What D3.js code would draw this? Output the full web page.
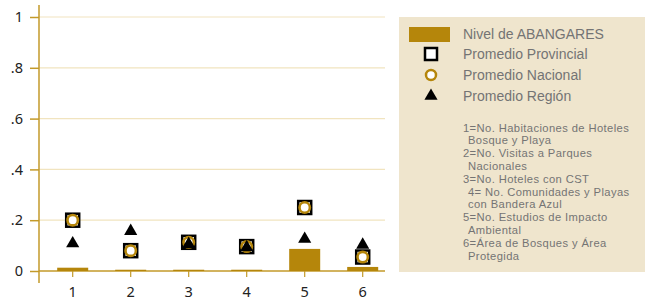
<!DOCTYPE html>
<html>
<head>
<meta charset="utf-8">
<script src="https://cdn.jsdelivr.net/npm/d3@7"></script>
<style>
	body { margin: 0; background: #fff; }
	svg { display: block; }
</style>
</head>
<body>
<svg id="chart" width="645" height="303"></svg>
<script>
const categories = ["1", "2", "3", "4", "5", "6"];
const nivel = [0.013, 0.005, 0.005, 0.005, 0.087, 0.016];
const provincial = [0.2, 0.08, 0.113, 0.096, 0.25, 0.055];
const nacional = [0.2, 0.08, 0.113, 0.096, 0.25, 0.055];
const region = [0.108, 0.157, 0.106, 0.093, 0.126, 0.103];
const yTicks = [0, 0.2, 0.4, 0.6, 0.8, 1];
const legendItems = ["Nivel de ABANGARES", "Promedio Provincial", "Promedio Nacional", "Promedio Región"];
const notes = [
	["1=No. Habitaciones de Hoteles", 0],
	["Bosque y Playa", 1],
	["2=No. Visitas a Parques", 0],
	["Nacionales", 1],
	["3=No. Hoteles con CST", 0],
	["4= No. Comunidades y Playas", 1],
	["con Bandera Azul", 1],
	["5=No. Estudios de Impacto", 0],
	["Ambiental", 1],
	["6=Área de Bosques y Área", 0],
	["Protegida", 1]
];

const gold = "#b5860b";
const axisColor = "#c39a2a";
const gridColor = "#f1e4bf";
const font = "'Noto Sans', sans-serif";
const legendFont = "'Liberation Sans', Arial, sans-serif";

let svg = d3.select("#chart");

let x = d3.scaleBand()
	.domain(categories)
	.range([43.7, 391.7]);
let y = d3.scaleLinear()
	.domain([0, 1])
	.range([271, 17]);

// gridlines
svg.append("g")
	.selectAll("line")
	.data(yTicks.slice(1))
	.enter().append("line")
	.attr("x1", 39).attr("x2", 385)
	.attr("y1", d => y(d)).attr("y2", d => y(d))
	.attr("stroke", gridColor)
	.attr("stroke-width", 1.2);

// y axis
let yAxis = svg.append("g")
	.attr("transform", "translate(39,0)")
	.call(d3.axisLeft(y).tickValues(yTicks).tickSize(9).tickPadding(7)
		.tickFormat(d => d === 0 ? "0" : d === 1 ? "1" : d3.format(".1f")(d).replace(/^0/, "")));
yAxis.select(".domain").attr("d", "M0,5V283").attr("stroke", axisColor).attr("stroke-width", 1.5);
yAxis.selectAll(".tick line").attr("stroke", axisColor).attr("stroke-width", 1.5);
yAxis.selectAll("text").attr("font-family", font).attr("font-size", 14.5).attr("fill", "#222");

// x axis
let xAxis = svg.append("g")
	.attr("transform", "translate(0," + y(0) + ")")
	.call(d3.axisBottom(x).tickSize(6).tickPadding(10));
xAxis.select(".domain").attr("d", "M39,0H385").attr("stroke", axisColor).attr("stroke-width", 1.5);
xAxis.selectAll(".tick line").attr("stroke", axisColor).attr("stroke-width", 1.2);
xAxis.selectAll("text").attr("font-family", font).attr("font-size", 14.5).attr("fill", "#222");

// bars
const barW = 31;
svg.append("g")
	.selectAll("rect")
	.data(nivel)
	.enter().append("rect")
	.attr("x", (d, i) => x(categories[i]) + x.bandwidth() / 2 - barW / 2)
	.attr("width", barW)
	.attr("y", d => y(d))
	.attr("height", d => y(0) - y(d))
	.attr("fill", gold);

function cx(i) { return x(categories[i]) + x.bandwidth() / 2; }

// provincial squares
svg.append("g")
	.selectAll("rect")
	.data(provincial)
	.enter().append("rect")
	.attr("x", (d, i) => cx(i) - 6.5)
	.attr("y", d => y(d) - 6.5)
	.attr("width", 13).attr("height", 13)
	.attr("fill", "#fff")
	.attr("stroke", "#000")
	.attr("stroke-width", 2.5);

// nacional circles
svg.append("g")
	.selectAll("circle")
	.data(nacional)
	.enter().append("circle")
	.attr("cx", (d, i) => cx(i))
	.attr("cy", d => y(d))
	.attr("r", 5.2)
	.attr("fill", "#fff")
	.attr("stroke", gold)
	.attr("stroke-width", 2.6);

// region triangles
let tri = d3.symbol().type(d3.symbolTriangle).size(75);
svg.append("g")
	.selectAll("path")
	.data(region)
	.enter().append("path")
	.attr("d", tri)
	.attr("transform", (d, i) => "translate(" + cx(i) + "," + y(d) + ")")
	.attr("fill", "#000");

// legend panel
let lg = svg.append("g");
lg.append("rect")
	.attr("x", 399).attr("y", 17)
	.attr("width", 246).attr("height", 255)
	.attr("fill", "#efe5cd");

const legY = [34, 54, 75, 96];
lg.append("rect")
	.attr("x", 409).attr("y", 27)
	.attr("width", 41).attr("height", 15)
	.attr("fill", gold);
lg.append("rect")
	.attr("x", 425).attr("y", legY[1] - 6)
	.attr("width", 12).attr("height", 12)
	.attr("fill", "#fff").attr("stroke", "#000").attr("stroke-width", 2.5);
lg.append("circle")
	.attr("cx", 431).attr("cy", legY[2]).attr("r", 5)
	.attr("fill", "#fff").attr("stroke", gold).attr("stroke-width", 2.5);
lg.append("path")
	.attr("d", tri)
	.attr("transform", "translate(431," + legY[3] + ")")
	.attr("fill", "#000");

lg.selectAll("text.item")
	.data(legendItems)
	.enter().append("text")
	.attr("class", "item")
	.attr("x", 463)
	.attr("y", (d, i) => legY[i])
	.attr("dy", "0.35em")
	.attr("font-family", legendFont)
	.attr("font-size", 14)
	.attr("fill", "#747474")
	.text(d => d);

lg.selectAll("text.note")
	.data(notes)
	.enter().append("text")
	.attr("class", "note")
	.attr("x", d => d[1] ? 468 : 463)
	.attr("y", (d, i) => 127.7 + i * 12.8)
	.attr("dy", "0.35em")
	.attr("font-family", legendFont)
	.attr("font-size", 11.2)
	.attr("letter-spacing", 0.4)
	.attr("fill", "#747474")
	.text(d => d[0]);
</script>
</body>
</html>
